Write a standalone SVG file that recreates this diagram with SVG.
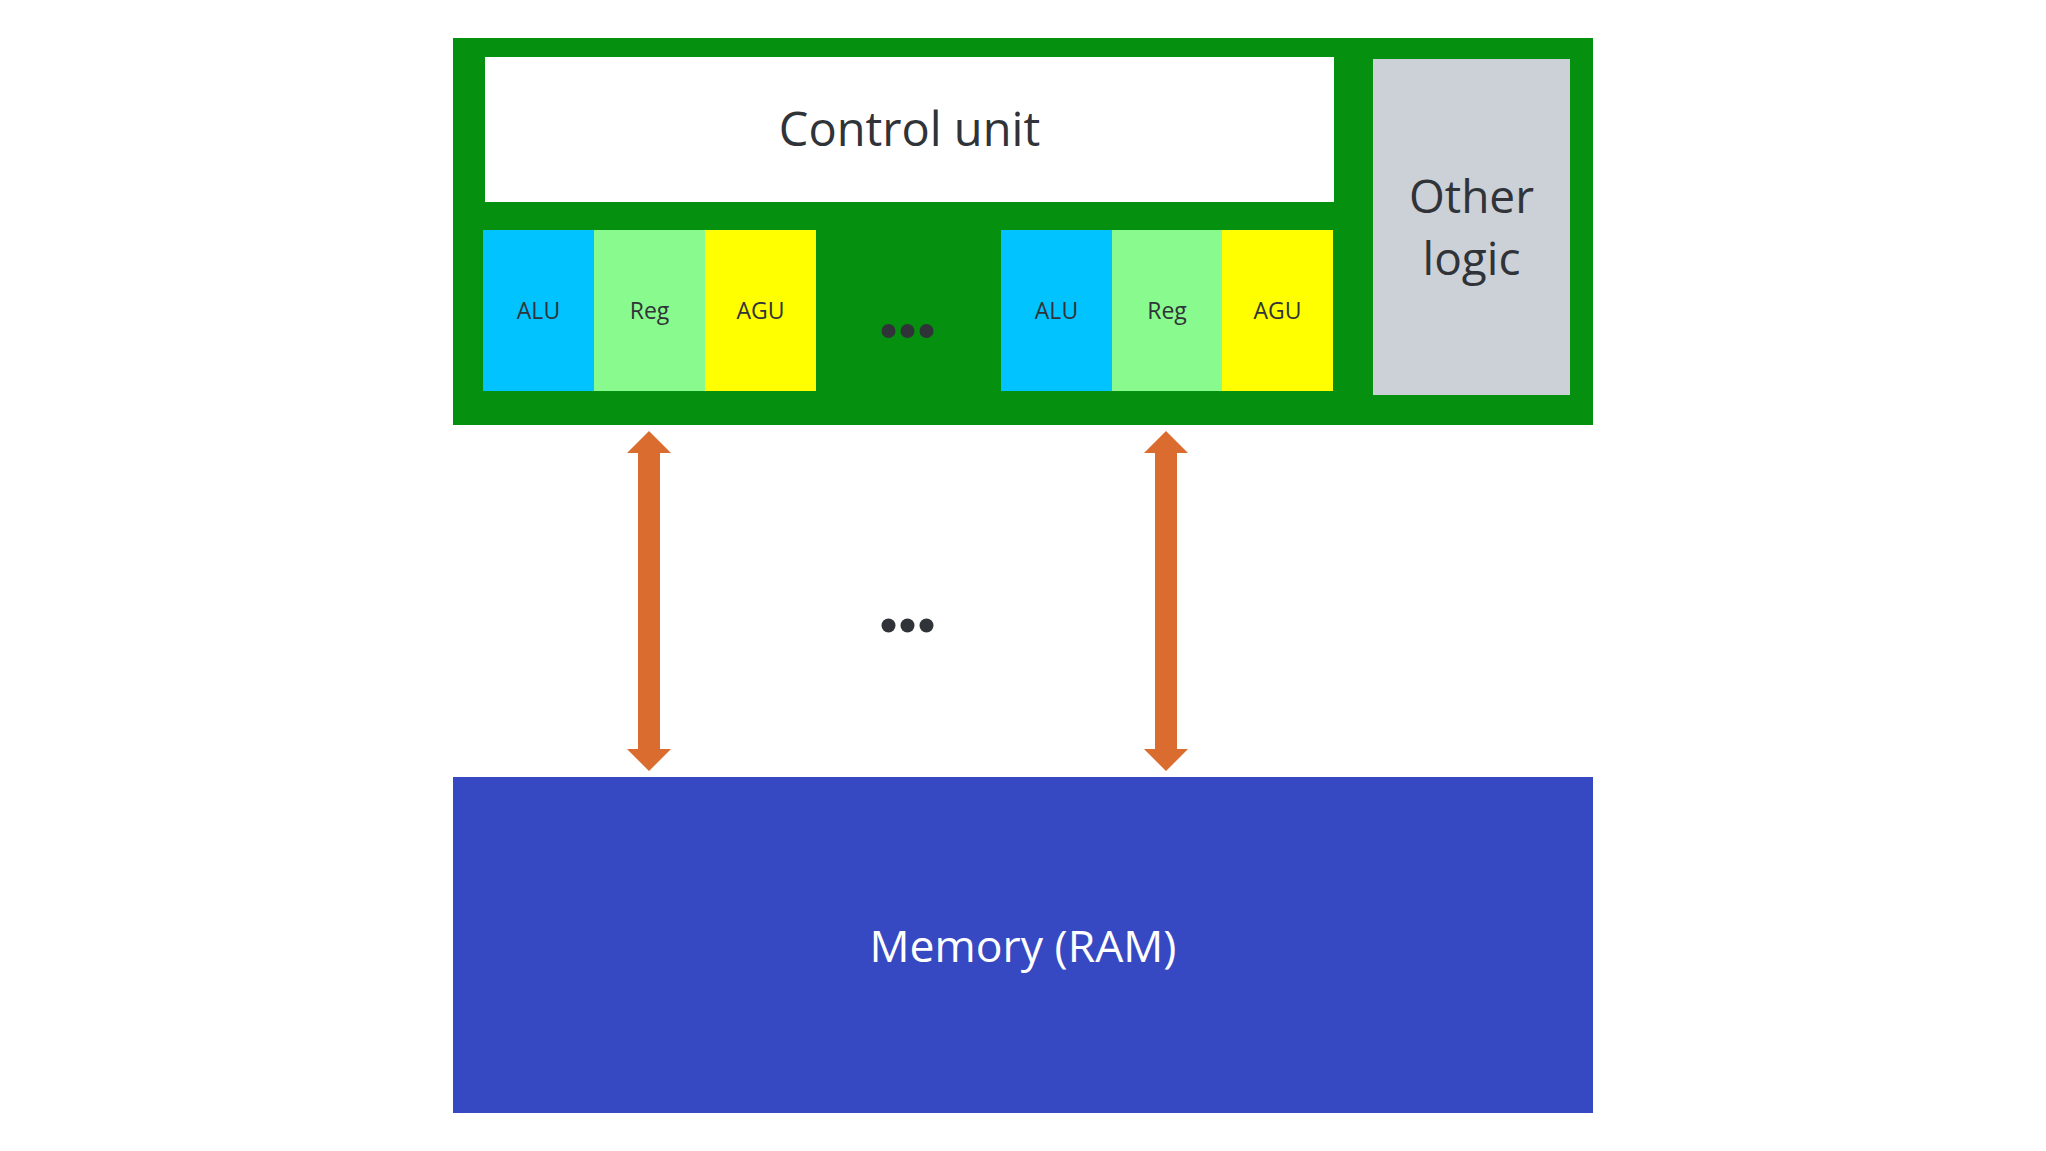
<svg xmlns="http://www.w3.org/2000/svg" width="2046" height="1151" viewBox="0 0 2046 1151">
<style>
text{font-family:"Open Sans","Noto Sans","DejaVu Sans",sans-serif;fill:#303338;text-anchor:middle}
.big{font-size:46px}
.small{font-size:23px}
.alu{fill:#00C3FF}
.reg{fill:#89FB8E}
.agu{fill:#FFFF00}
.arrow{fill:#DB6C30}
.dot{fill:#303338}
</style>
<rect width="2046" height="1151" fill="#FFFFFF"/>
<g id="cpu">
<rect x="453" y="38" width="1140" height="387" fill="#06900F"/>
</g>
<g id="control-unit">
<rect x="485" y="57" width="849" height="145" fill="#FFFFFF"/>
<text class="big" x="909.5" y="146" style="font-size:47px">Control unit</text>
</g>
<g id="other-logic">
<rect x="1373" y="59" width="197" height="336" fill="#CCD0D7"/>
<text class="big" x="1471.5" y="213">Other</text>
<text class="big" x="1471.5" y="275">logic</text>
</g>
<g id="alu1"><rect class="alu" x="483" y="230" width="111" height="161"/><text class="small" x="538.5" y="319">ALU</text></g>
<g id="reg1"><rect class="reg" x="594" y="230" width="111" height="161"/><text class="small" x="649.5" y="319">Reg</text></g>
<g id="agu1"><rect class="agu" x="705" y="230" width="111" height="161"/><text class="small" x="760.5" y="319">AGU</text></g>
<g id="dots-cpu">
<circle class="dot" cx="888.5" cy="331" r="7"/><circle class="dot" cx="907.5" cy="331" r="7"/><circle class="dot" cx="926.5" cy="331" r="7"/>
</g>
<g id="alu2"><rect class="alu" x="1001" y="230" width="111" height="161"/><text class="small" x="1056.5" y="319">ALU</text></g>
<g id="reg2"><rect class="reg" x="1112" y="230" width="110" height="161"/><text class="small" x="1167" y="319">Reg</text></g>
<g id="agu2"><rect class="agu" x="1222" y="230" width="111" height="161"/><text class="small" x="1277.5" y="319">AGU</text></g>
<g id="memory">
<rect x="453" y="777" width="1140" height="336" fill="#3649C2"/>
<text class="big" x="1023" y="962" style="fill:#FFFFFF;font-size:44.5px">Memory (RAM)</text>
</g>
<g id="dots-mid">
<circle class="dot" cx="888.5" cy="625.5" r="7"/><circle class="dot" cx="907.5" cy="625.5" r="7"/><circle class="dot" cx="926.5" cy="625.5" r="7"/>
</g>
<g id="connectors">
<polygon class="arrow" points="649,431 671,453 660,453 660,749 671,749 649,771 627,749 638,749 638,453 627,453"/>
<polygon class="arrow" points="1166,431 1188,453 1177,453 1177,749 1188,749 1166,771 1144,749 1155,749 1155,453 1144,453"/>
</g>
</svg>
